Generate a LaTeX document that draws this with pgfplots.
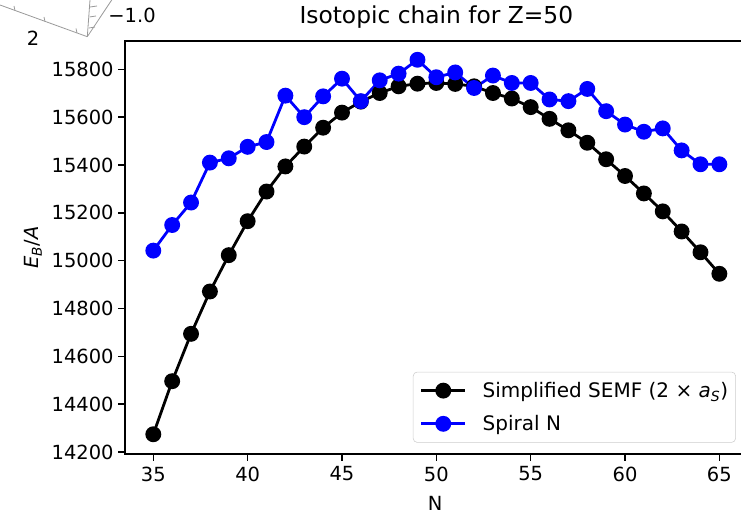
\documentclass[border=0pt]{standalone}
\usepackage{fontspec}
\setmainfont{DejaVu Sans}
\usepackage{pgfplots}
\pgfplotsset{compat=1.18}

\pgfplotstableread{
N E
35 14274
36 14496
37 14694
38 14871
39 15023
40 15165
41 15289
42 15394
43 15477
44 15556
45 15619
46 15665
47 15701
48 15729
49 15740
50 15743
51 15739
52 15729
53 15701
54 15678
55 15642
56 15593
57 15545
58 15493
59 15424
60 15354
61 15281
62 15206
63 15122
64 15035
65 14945
}\semf

\pgfplotstableread{
N E
35 15042
36 15149
37 15243
38 15410
39 15428
40 15476
41 15496
42 15690
43 15600
44 15687
45 15761
46 15667
47 15754
48 15782
49 15840
50 15767
51 15787
52 15722
53 15774
54 15743
55 15743
56 15674
57 15667
58 15718
59 15625
60 15569
61 15539
62 15553
63 15461
64 15403
65 15403
}\spiral

\begin{document}
\begin{tikzpicture}
\begin{axis}[
  at={(0,0)}, anchor=south west,
  scale only axis, width=467pt, height=309.75pt,
  xmin=33.5, xmax=66.5, ymin=14191.5, ymax=15918.5,
  xtick={35,40,...,65},
  ytick={14200,14400,...,15800},
  scaled ticks=false,
  xtick pos=left, ytick pos=left,
  tick align=outside,
  major tick length=5pt,
  every tick/.style={black, line width=1.1pt},
  axis line style={line width=1.1pt},
  /pgf/number format/assume math mode=true,
  /pgf/number format/1000 sep={},
  tick label style={font=\fontsize{14.6}{17}\selectfont},
  xticklabel style={yshift=-1pt},
  every axis title shift=0pt,
  title={Isotopic chain for Z=50},
  title style={font=\fontsize{17.5}{20}\selectfont, at={(axis description cs:0.5,1.058)}, anchor=center},
  xlabel={N},
  xlabel style={font=\fontsize{14.6}{17}\selectfont, at={(axis description cs:0.498,-0.1186)}, anchor=center},
  ylabel={\textit{E}\textsubscript{\textit{B}}/\textit{A}},
  ylabel style={font=\fontsize{14.6}{17}\selectfont, at={(axis description cs:-0.1477,0.5)}, anchor=center},
  legend style={at={(rel axis cs:0.981,0.0274)}, anchor=south east,
    draw=black!20, rounded corners=3pt, fill=white,
    font=\fontsize{15}{17}\selectfont,
    inner xsep=5pt, inner ysep=7pt, row sep=11pt, column sep=11.5pt,
    nodes={inner sep=0.5pt}},
  legend cell align=left,
  legend image code/.code={\draw[mark repeat=2,mark phase=2] plot coordinates {(0pt,0pt) (16.5pt,0pt) (33pt,0pt)};},
]
\addplot[black, line width=2.1pt, mark=*, mark size=4.9pt, mark options={solid}] table[x=N,y=E]{\semf};
\addlegendentry{Simplified SEMF (2 × \textit{a}\textsubscript{\textit{S}})}
\addplot[blue, line width=2.1pt, mark=*, mark size=4.9pt, mark options={solid}] table[x=N,y=E]{\spiral};
\addlegendentry{Spiral N}
\end{axis}
\begin{scope}[x=0.75pt, y=-0.75pt, shift={(-93.75pt,340.5pt)}, gray!80, line width=0.6pt]
  \draw (0,5) -- (87.3,36.7);
  \draw (87.3,36.7) -- (90,0);
  \draw (87.3,36.7) -- (111.7,0);
  \draw (15,10.5) -- (14,6);
  \draw (45,21.5) -- (44,17);
  \draw (77,33) -- (76,28.5);
  \draw (89,28) -- (95,27);
  \draw (89.5,17) -- (96,16);
  \draw (90,7) -- (97,6);
  \node[black, font=\fontsize{14.6}{17}\selectfont, anchor=center] at (33,38) {2};
  \node[black, font=\fontsize{14.6}{17}\selectfont, anchor=center] at (132,15) {−1.0};
\end{scope}
\pgfresetboundingbox
\useasboundingbox (-93.75pt,-45pt) rectangle (462pt,340.5pt);
\end{tikzpicture}
\end{document}
